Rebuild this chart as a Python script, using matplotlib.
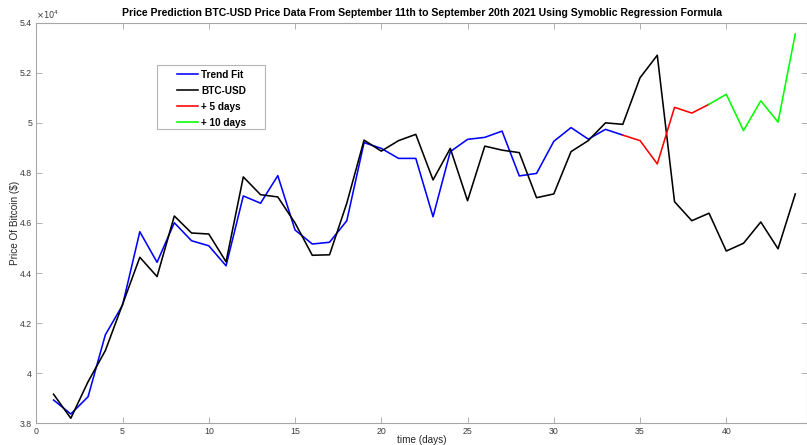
import matplotlib
matplotlib.use("Agg")
import matplotlib.pyplot as plt
from matplotlib.ticker import FuncFormatter
from matplotlib.patches import Rectangle

# Daily BTC-USD closes (USD), days 1..44
btc_days = list(range(1, 45))
btc_price = [39160, 38200, 39660, 40900, 42750, 44630, 43860, 46280, 45600, 45560,
             44450, 47840, 47130, 47040, 46000, 44710, 44730, 46790, 49310, 48870,
             49290, 49540, 47720, 48980, 46890, 49070, 48910, 48810, 47010, 47160,
             48850, 49290, 50000, 49940, 51800, 52700, 46850, 46090, 46390, 44880,
             45190, 46040, 44970, 47160]

# Symbolic regression fit over the training window, days 1..34
fit_days = list(range(1, 35))
fit_price = [38930, 38370, 39060, 41530, 42720, 45650, 44430, 46010, 45290, 45090,
             44290, 47080, 46790, 47890, 45720, 45160, 45230, 46090, 49210, 48980,
             48580, 48580, 46250, 48850, 49340, 49420, 49670, 47880, 47980, 49260,
             49810, 49350, 49740, 49510]

# Forecast: +5 days (34..39) and +10 days (39..44)
pred5_days = [34, 35, 36, 37, 38, 39]
pred5_price = [49510, 49290, 48360, 50620, 50390, 50740]
pred10_days = [39, 40, 41, 42, 43, 44]
pred10_price = [50740, 51140, 49690, 50880, 50030, 53550]

x_ticks = [0, 5, 10, 15, 20, 25, 30, 35, 40]
y_ticks = [38000, 40000, 42000, 44000, 46000, 48000, 50000, 52000, 54000]

plt.rcParams['font.family'] = ['Liberation Sans', 'DejaVu Sans']

fig = plt.figure(figsize=(8.07, 4.45), dpi=100)
ax = fig.add_axes([0.045, 0.0488, 0.955, 0.9002])

lw = 1.15
ax.plot(fit_days, fit_price, color='#0000ff', lw=lw, label='Trend Fit')
ax.plot(btc_days, btc_price, color='black', lw=lw, label='BTC-USD')
ax.plot(pred5_days, pred5_price, color='#ff0000', lw=lw, label='+ 5 days')
ax.plot(pred10_days, pred10_price, color='#00ff00', lw=lw, label='+ 10 days')

ax.set_xlim(0, 44.68)
ax.set_ylim(38000, 54000)
ax.set_xticks(x_ticks)
ax.set_yticks(y_ticks)
ax.yaxis.set_major_formatter(FuncFormatter(lambda v, p: f"{v/1e4:g}"))

spine_col = '#a6a6a6'
for s in ax.spines.values():
    s.set_color(spine_col)
    s.set_linewidth(0.8)
ax.tick_params(direction='in', length=4, width=0.6, color=spine_col,
               labelsize=6.3, labelcolor='#3c3c3c', top=True, right=True,
               pad=3)

ax.text(0.0, 1.004, r'$\times10^{4}$', transform=ax.transAxes, fontsize=6,
        color='#3c3c3c', ha='left', va='bottom')

ax.set_title('Price Prediction BTC-USD Price Data From September 11th to September 20th 2021 Using Symoblic Regression Formula',
             fontsize=7.6, fontweight='bold', pad=4.5, x=0.5)
ax.set_xlabel('time (days)', fontsize=7.2, color='#262626')
ax.xaxis.set_label_coords(0.5, -0.029)
ax.set_ylabel('Price Of Bitcoin ($)', fontsize=7.2, color='#262626')
ax.yaxis.set_label_coords(-0.021, 0.5)

# Legend box
ax.add_patch(Rectangle((0.156, 0.734), 0.141, 0.160, transform=ax.transAxes,
                       facecolor='white', edgecolor='#b5b5b5', lw=0.8, zorder=4))
leg = ax.legend(loc='upper left', bbox_to_anchor=(0.180, 0.887), frameon=False,
                prop={'weight': 'bold', 'size': 7.2}, handlelength=2.1,
                handletextpad=0.3, labelspacing=0.6, borderaxespad=0,
                borderpad=0.2)
leg.set_zorder(5)

fig.savefig('out.png', dpi=100)
